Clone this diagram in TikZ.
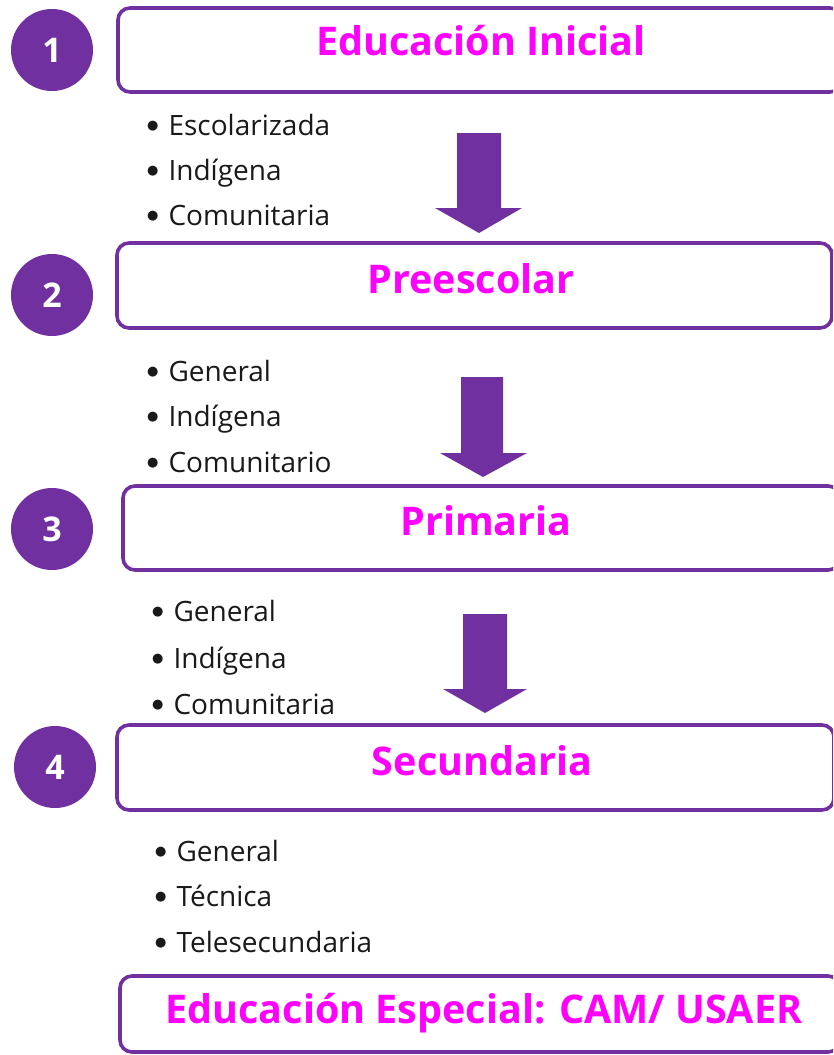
\documentclass[tikz,border=0pt]{standalone}
\usepackage{fontspec}
\setmainfont{Open Sans}
\newfontfamily\symfont{DejaVu Sans}
\newcommand\blt{\raisebox{5.5pt}{\symfont\fontsize{13}{13}\selectfont ●}\hspace{10pt}}
\definecolor{edupurple}{HTML}{7030A0}
\definecolor{edumagenta}{HTML}{FF00FF}
\begin{document}
\begin{tikzpicture}[x=1pt,y=-1pt,
  levelbox/.style={draw=edupurple,line width=3.6pt,rounded corners=12pt},
  numcircle/.style={circle,fill=edupurple,minimum size=82pt,inner sep=0pt,text=white,
    font=\fontsize{34}{34}\selectfont\bfseries},
  title/.style={anchor=base,text=edumagenta,font=\fontsize{39.5}{39.5}\selectfont\bfseries,inner sep=0pt},
  item/.style={anchor=base west,inner sep=0pt,text=black!90,
    font=\fontsize{28}{28}\selectfont},
  blockarrow/.style={fill=edupurple}
]
\useasboundingbox (0,0) rectangle (833,1055);
\begin{scope}
\clip (0,0) rectangle (833,1055);
% boxes
\draw[levelbox] (118,8) rectangle (842,92);
\draw[levelbox] (117,243) rectangle (832,328);
\draw[levelbox] (123,486) rectangle (840,570);
\draw[levelbox] (117,725) rectangle (834,810);
\draw[levelbox] (120,976) rectangle (840,1052);
\end{scope}
% title positions
\coordinate (b1) at (481,55);
\coordinate (b2) at (471,293);
\coordinate (b3) at (486,535);
\coordinate (b4) at (482,775);
\coordinate (b5) at (484,1023);
% circles
\node[numcircle] (c1) at (52,50) {1};
\node[numcircle] (c2) at (52,295) {2};
\node[numcircle] (c3) at (52,529) {3};
\node[numcircle] (c4) at (55,767) {4};
% titles
\node[title] (t1) at (b1) {Educación Inicial};
\node[title] (t2) at (b2) {Preescolar};
\node[title] (t3) at (b3) {Primaria};
\node[title] (t4) at (b4) {Secundaria};
\node[title] (t5) at (b5) {Educación Especial: CAM/ USAER};
% lists
\node[item] (l1a) at (147,135) {\blt Escolarizada};
\node[item] (l1b) at (147,180) {\blt Indígena};
\node[item] (l1c) at (147,225) {\blt Comunitaria};
\node[item] (l2a) at (147,381) {\blt General};
\node[item] (l2b) at (147,426) {\blt Indígena};
\node[item] (l2c) at (147,472) {\blt Comunitario};
\node[item] (l3a) at (152,621) {\blt General};
\node[item] (l3b) at (152,668) {\blt Indígena};
\node[item] (l3c) at (152,714) {\blt Comunitaria};
\node[item] (l4a) at (155,861) {\blt General};
\node[item] (l4b) at (155,906) {\blt Técnica};
\node[item] (l4c) at (155,952) {\blt Telesecundaria};
% arrows
\fill[blockarrow] (457,133) -- (501,133) -- (501,208) -- (522,208) -- (479,233) -- (435,208) -- (457,208) -- cycle;
\fill[blockarrow] (461,377) -- (503,377) -- (503,453) -- (527,453) -- (483,477) -- (440,453) -- (461,453) -- cycle;
\fill[blockarrow] (463,614) -- (507,614) -- (507,689) -- (527,689) -- (485,713) -- (443,689) -- (463,689) -- cycle;
\end{tikzpicture}
\end{document}
